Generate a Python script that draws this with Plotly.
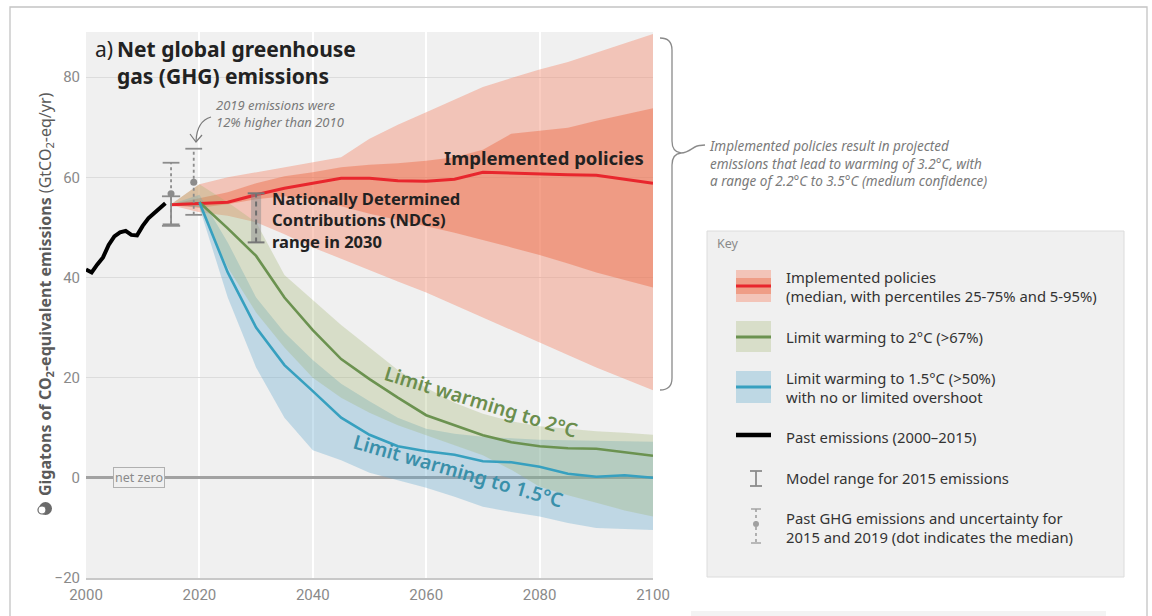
import plotly.graph_objects as go

# ---------------- data (GtCO2-eq/yr) ----------------
past_years = [2000, 2001, 2002, 2003, 2004, 2005, 2006, 2007, 2008, 2009, 2010, 2011, 2012, 2013, 2014]
past_ghg = [41.6, 41.0, 42.6, 44.0, 46.5, 48.2, 49.0, 49.3, 48.5, 48.4, 50.3, 51.8, 52.8, 53.8, 54.8]

proj_years = [2015, 2020, 2025, 2030, 2035, 2040, 2045, 2050, 2055,
              2060, 2065, 2070, 2075, 2080, 2085, 2090, 2095, 2100]

# implemented policies: median and percentiles
pol_med = [54.5, 54.7, 55.0, 56.5, 57.8, 58.8, 59.8, 59.8, 59.3, 59.2, 59.6, 61.0, 60.8, 60.6, 60.5, 60.4, 59.6, 58.8]
pol_p75 = [54.6, 55.8, 57.0, 58.8, 60.2, 61.0, 62.0, 62.5, 62.8, 63.3, 64.0, 65.5, 68.7, 69.3, 69.9, 71.3, 72.6, 73.8]
pol_p95 = [54.6, 58.6, 60.0, 61.0, 62.0, 63.0, 64.0, 67.7, 70.5, 73.0, 75.5, 78.0, 79.8, 81.5, 83.0, 84.9, 86.7, 88.6]
pol_p25 = [54.4, 53.9, 54.6, 55.6, 56.2, 55.5, 54.2, 52.7, 51.4, 50.2, 48.9, 47.5, 46.0, 44.5, 42.8, 41.0, 39.5, 38.0]
pol_p5 = [54.4, 53.0, 52.3, 51.0, 48.6, 46.0, 43.7, 41.5, 39.2, 37.0, 34.5, 32.0, 29.5, 27.0, 24.5, 22.0, 19.8, 17.5]

# limit warming to 2°C (>67%)
c3_hi = [54.6, 58.6, 55.0, 51.0, 40.5, 35.5, 30.5, 26.0, 21.5, 18.0, 15.0, 12.8, 11.3, 10.3, 9.8, 9.3, 9.0, 8.6]
c3_lo = [54.6, 54.0, 42.0, 33.0, 26.0, 20.0, 16.0, 13.0, 10.5, 8.5, 6.5, 4.5, 1.6, -1.8, -3.5, -5.0, -6.5, -7.7]
# limit warming to 1.5°C (>50%)
c1_hi = [54.6, 56.5, 47.0, 36.0, 29.0, 23.5, 18.8, 15.3, 12.0, 9.8, 8.8, 8.2, 7.9, 7.6, 7.5, 7.4, 7.3, 7.2]
c1_lo = [54.6, 54.0, 36.0, 22.0, 12.0, 5.5, 3.5, 1.0, -0.5, -2.0, -3.8, -5.8, -6.8, -7.7, -9.0, -10.0, -10.2, -10.4]

# scenario medians start in 2020
path_years = [2020, 2025, 2030, 2035, 2040, 2045, 2050, 2055, 2060,
              2065, 2070, 2075, 2080, 2085, 2090, 2095, 2100]
c3_med = [55.0, 49.8, 44.3, 36.0, 29.5, 23.7, 19.7, 16.0, 12.5, 10.5, 8.5, 7.1, 6.3, 5.9, 5.8, 5.1, 4.4]
c1_med = [55.0, 41.0, 30.0, 22.5, 17.3, 12.0, 8.6, 6.3, 5.3, 4.6, 3.3, 3.1, 2.2, 0.8, 0.2, 0.5, 0.0]

# observed emissions uncertainty (dot = median)
obs_years = [2015, 2019]
obs_med = [56.7, 59.0]
obs_lo = [50.6, 52.5]
obs_hi = [62.9, 65.7]

# model range for 2015
model_year = 2015
model_lo = 50.3
model_hi = 56.2

# NDC range in 2030
ndc_year = 2030
ndc_lo = 47.0
ndc_hi = 56.8

y_ticks = [-20, 0, 20, 40, 60, 80]
x_ticks = [2000, 2020, 2040, 2060, 2080, 2100]

# ---------------- styling ----------------
FONT = "Noto Sans"
RED = "#e8262d"
RED_LIGHT = "rgba(244,142,116,0.45)"
RED_DARK = "rgba(234,94,54,0.40)"
GREEN = "#6b9250"
GREEN_BAND = "rgba(160,180,110,0.30)"
BLUE = "#37a0bf"
BLUE_BAND = "rgba(100,170,205,0.35)"
GREY = "#8c8c8c"
NOTE = "#7a7a7a"

# plot area in pixels
L, R, T, B = 86, 653, 32, 578
W, H = R - L, B - T


def px(x):
    return (x - L) / W


def py(y):
    return (B - y) / H


def band(x, hi, lo, color):
    return go.Scatter(x=list(x) + list(x)[::-1], y=list(hi) + list(lo)[::-1],
                      fill="toself", fillcolor=color, line=dict(width=0),
                      mode="lines", hoverinfo="skip", showlegend=False)


fig = go.Figure()

# bands
fig.add_trace(band(proj_years, pol_p95, pol_p5, RED_LIGHT))
fig.add_trace(band(proj_years, pol_p75, pol_p25, RED_DARK))
fig.add_trace(band(proj_years, c1_hi, c1_lo, BLUE_BAND))
fig.add_trace(band(proj_years, c3_hi, c3_lo, GREEN_BAND))

# medians
fig.add_trace(go.Scatter(x=proj_years, y=pol_med, mode="lines",
                         line=dict(color=RED, width=3), showlegend=False))
fig.add_trace(go.Scatter(x=path_years, y=c3_med, mode="lines",
                         line=dict(color=GREEN, width=2.6), showlegend=False))
fig.add_trace(go.Scatter(x=path_years, y=c1_med, mode="lines",
                         line=dict(color=BLUE, width=2.6), showlegend=False))

# past emissions
fig.add_trace(go.Scatter(x=past_years, y=past_ghg, mode="lines",
                         line=dict(color="#000000", width=4), showlegend=False))

# NDC range bar
fig.add_trace(go.Scatter(x=[ndc_year, ndc_year], y=[ndc_lo, ndc_hi], mode="lines",
                         line=dict(color="rgba(140,140,140,0.5)", width=10), showlegend=False))
fig.add_trace(go.Scatter(x=[ndc_year, ndc_year], y=[ndc_lo, ndc_hi], mode="lines",
                         line=dict(color="#6e6e6e", width=2, dash="5px,4px"), showlegend=False))
fig.add_trace(go.Scatter(x=[ndc_year, ndc_year], y=[ndc_lo, ndc_hi], mode="markers",
                         marker=dict(symbol="line-ew", size=12, line=dict(width=2, color="#777777")),
                         showlegend=False))

# observed uncertainty (dotted)
for yr, lo, hi in zip(obs_years, obs_lo, obs_hi):
    fig.add_trace(go.Scatter(x=[yr, yr], y=[lo, hi], mode="lines",
                             line=dict(color=GREY, width=1.8, dash="dot"), showlegend=False))
    fig.add_trace(go.Scatter(x=[yr, yr], y=[lo, hi], mode="markers",
                             marker=dict(symbol="line-ew", size=12, line=dict(width=1.8, color=GREY)),
                             showlegend=False))
fig.add_trace(go.Scatter(x=obs_years, y=obs_med, mode="markers",
                         marker=dict(size=7, color=GREY), showlegend=False))

# model range 2015 (solid)
fig.add_trace(go.Scatter(x=[model_year, model_year], y=[model_lo, model_hi], mode="lines",
                         line=dict(color=GREY, width=1.8), showlegend=False))
fig.add_trace(go.Scatter(x=[model_year, model_year], y=[model_lo, model_hi], mode="markers",
                         marker=dict(symbol="line-ew", size=13, line=dict(width=1.8, color=GREY)),
                         showlegend=False))

annotations = []


def text(t, x, y, size, color="#222222", xanchor="left", family=FONT,
         weight="normal", style="normal", angle=0, align="left"):
    annotations.append(dict(text=t, x=px(x), y=py(y), xref="paper", yref="paper",
                            xanchor=xanchor, yanchor="middle", showarrow=False,
                            textangle=angle, align=align,
                            font=dict(family=family, size=size, color=color,
                                      weight=weight, style=style)))


# title
text("a)", 93, 49, 21, "#222222")
text("Net global greenhouse<br>gas (GHG) emissions", 115, 62, 21, "#222222", weight="bold")

# note about 2019
text("2019 emissions were<br>12% higher than 2010", 214, 113, 13, NOTE, style="italic")

# series labels
text("Implemented policies", 544, 157, 18.5, "#222222", xanchor="center", weight="bold")
text("Nationally Determined<br>Contributions (NDCs)<br>range in 2030", 270, 220, 16.5,
     "#222222", weight="bold")
text("Limit warming to 2°C", 481, 401, 19.5, "#6b8e4e", xanchor="center", weight=600, angle=17)
text("Limit warming to 1.5°C", 458, 470, 19.5, "#3a90aa", xanchor="center", weight=600, angle=16)

# net zero tag
annotations.append(dict(text="net zero", x=2009.3, y=0, xref="x", yref="y", showarrow=False,
                        xanchor="center", yanchor="middle", bgcolor="#f0f0f0",
                        bordercolor="#b0b0b0", borderwidth=1, borderpad=1,
                        font=dict(family=FONT, size=12.5, color="#8a8a8a")))

# y axis title
annotations.append(dict(text="<b>Gigatons of CO<sub>2</sub>-equivalent emissions</b> (GtCO<sub>2</sub>-eq/yr)",
                        x=px(45), y=py(294), xref="paper", yref="paper", showarrow=False,
                        textangle=-90, xanchor="center", yanchor="middle",
                        font=dict(family=FONT, size=16, color="#5a5a5a")))

# implemented policies outcome note
text("Implemented policies result in projected<br>"
     "emissions that lead to warming of 3.2°C, with<br>"
     "a range of 2.2°C to 3.5°C (medium confidence)", 707, 163, 13.5, NOTE, style="italic")

# key texts
KEY_TXT = "#333333"
text("Key", 715, 244, 12.5, "#8a8a8a")
text("Implemented policies<br>(median, with percentiles 25-75% and 5-95%)", 784, 286.5, 14.8, KEY_TXT)
text("Limit warming to 2°C (>67%)", 784, 337, 14.8, KEY_TXT)
text("Limit warming to 1.5°C (>50%)<br>with no or limited overshoot", 784, 387, 14.8, KEY_TXT)
text("Past emissions (2000–2015)", 784, 437, 14.8, KEY_TXT)
text("Model range for 2015 emissions", 784, 478, 14.8, KEY_TXT)
text("Past GHG emissions and uncertainty for<br>2015 and 2019 (dot indicates the median)",
     784, 527, 14.8, KEY_TXT)

shapes = []


def rect(x0, y0, x1, y1, fill, line_color=None, lw=0, layer="above"):
    shapes.append(dict(type="rect", xref="paper", yref="paper",
                       x0=px(x0), x1=px(x1), y0=py(y0), y1=py(y1),
                       fillcolor=fill, layer=layer,
                       line=dict(color=line_color or "rgba(0,0,0,0)", width=lw)))


def seg(x0, y0, x1, y1, color, width, dash="solid"):
    shapes.append(dict(type="line", xref="paper", yref="paper",
                       x0=px(x0), x1=px(x1), y0=py(y0), y1=py(y1),
                       line=dict(color=color, width=width, dash=dash)))


def path(points, color, width):
    parts = []
    for cmd, *pts in points:
        coords = " ".join(f"{px(a):.5f},{py(b):.5f}" for a, b in pts)
        parts.append(f"{cmd} {coords}")
    shapes.append(dict(type="path", xref="paper", yref="paper", path=" ".join(parts),
                       line=dict(color=color, width=width)))


# outer frame
rect(10, 7, 1147, 622, "rgba(0,0,0,0)", "#c4c4c4", 1.3, layer="below")
rect(691, 611, 1106, 618, "#f3f3f3", layer="below")

# key box
rect(707, 231, 1124, 577, "#f0f0f0", "#dcdcdc", 1, layer="below")
rect(736, 270, 771, 302, "rgb(243,196,184)")
rect(736, 278, 771, 294, "rgb(239,157,134)")
seg(736, 286, 771, 286, RED, 3)
rect(736, 321, 771, 352, "rgb(216,222,201)")
seg(736, 337, 771, 337, GREEN, 3)
rect(736, 371, 771, 403, "rgb(190,216,228)")
seg(736, 387, 771, 387, BLUE, 3)
seg(736, 435, 771, 435, "#000000", 4.5)
seg(756, 471, 756, 486, GREY, 1.8)
seg(750, 471, 762, 471, GREY, 1.8)
seg(750, 486, 762, 486, GREY, 1.8)
seg(756, 509, 756, 543, "#a0a0a0", 1.6, "dot")
seg(751, 509, 761, 509, "#a0a0a0", 1.4)
seg(751, 543, 761, 543, "#a0a0a0", 1.4)
shapes.append(dict(type="circle", xref="paper", yref="paper",
                   x0=px(753), x1=px(759), y0=py(521), y1=py(527),
                   fillcolor="#a0a0a0", line=dict(width=0)))

# curly brace spanning the policy range
path([("M", (660, 38)), ("Q", (672, 38), (672, 50)), ("L", (672, 141)),
      ("Q", (672, 152), (681, 153)), ("Q", (672, 154), (672, 165)),
      ("L", (672, 378)), ("Q", (672, 390), (660, 390))], "#8a8a8a", 1.3)
path([("M", (681, 153)), ("C", (690, 153), (694, 145), (700, 145.5)),
      ("L", (705, 145))], "#8a8a8a", 1.3)

# curved arrow to the 2019 bar
path([("M", (211, 117)), ("Q", (197, 121), (196, 141))], NOTE, 1.2)
path([("M", (190, 134)), ("L", (196, 142)), ("L", (202, 135))], NOTE, 1.2)

# little icon below axis title
shapes.append(dict(type="circle", xref="paper", yref="paper",
                   x0=px(39), x1=px(52), y0=py(515), y1=py(502),
                   fillcolor="#6a6a6a", line=dict(width=0)))
shapes.append(dict(type="circle", xref="paper", yref="paper",
                   x0=px(38), x1=px(46), y0=py(514), y1=py(506),
                   fillcolor="#ffffff", line=dict(color="#6a6a6a", width=1.2)))

TICK_FONT = dict(family="Liberation Sans Narrow, Roboto, sans-serif", size=15, color="#8a8a8a")

fig.update_layout(
    width=1152, height=616, autosize=False,
    margin=dict(l=L, r=1152 - R, t=T, b=616 - B, pad=0),
    paper_bgcolor="#ffffff", plot_bgcolor="#f0f0f0",
    font=dict(family=FONT),
    showlegend=False,
    annotations=annotations, shapes=shapes,
    xaxis=dict(range=[2000, 2100], tickvals=x_ticks, ticks="", showgrid=True,
               gridcolor="#ffffff", gridwidth=1.6, zeroline=False,
               showline=True, linecolor="#c8c8c8", linewidth=2,
               tickfont=TICK_FONT, ticklabelstandoff=2, fixedrange=True),
    yaxis=dict(range=[-20, 89], tickvals=y_ticks, ticks="", showgrid=True,
               gridcolor="#dcdcdc", gridwidth=1, zeroline=True,
               zerolinecolor="#a2a2a2", zerolinewidth=2.5, showline=False,
               tickfont=TICK_FONT, ticklabelstandoff=5, fixedrange=True),
)

fig.write_html("out.html")
